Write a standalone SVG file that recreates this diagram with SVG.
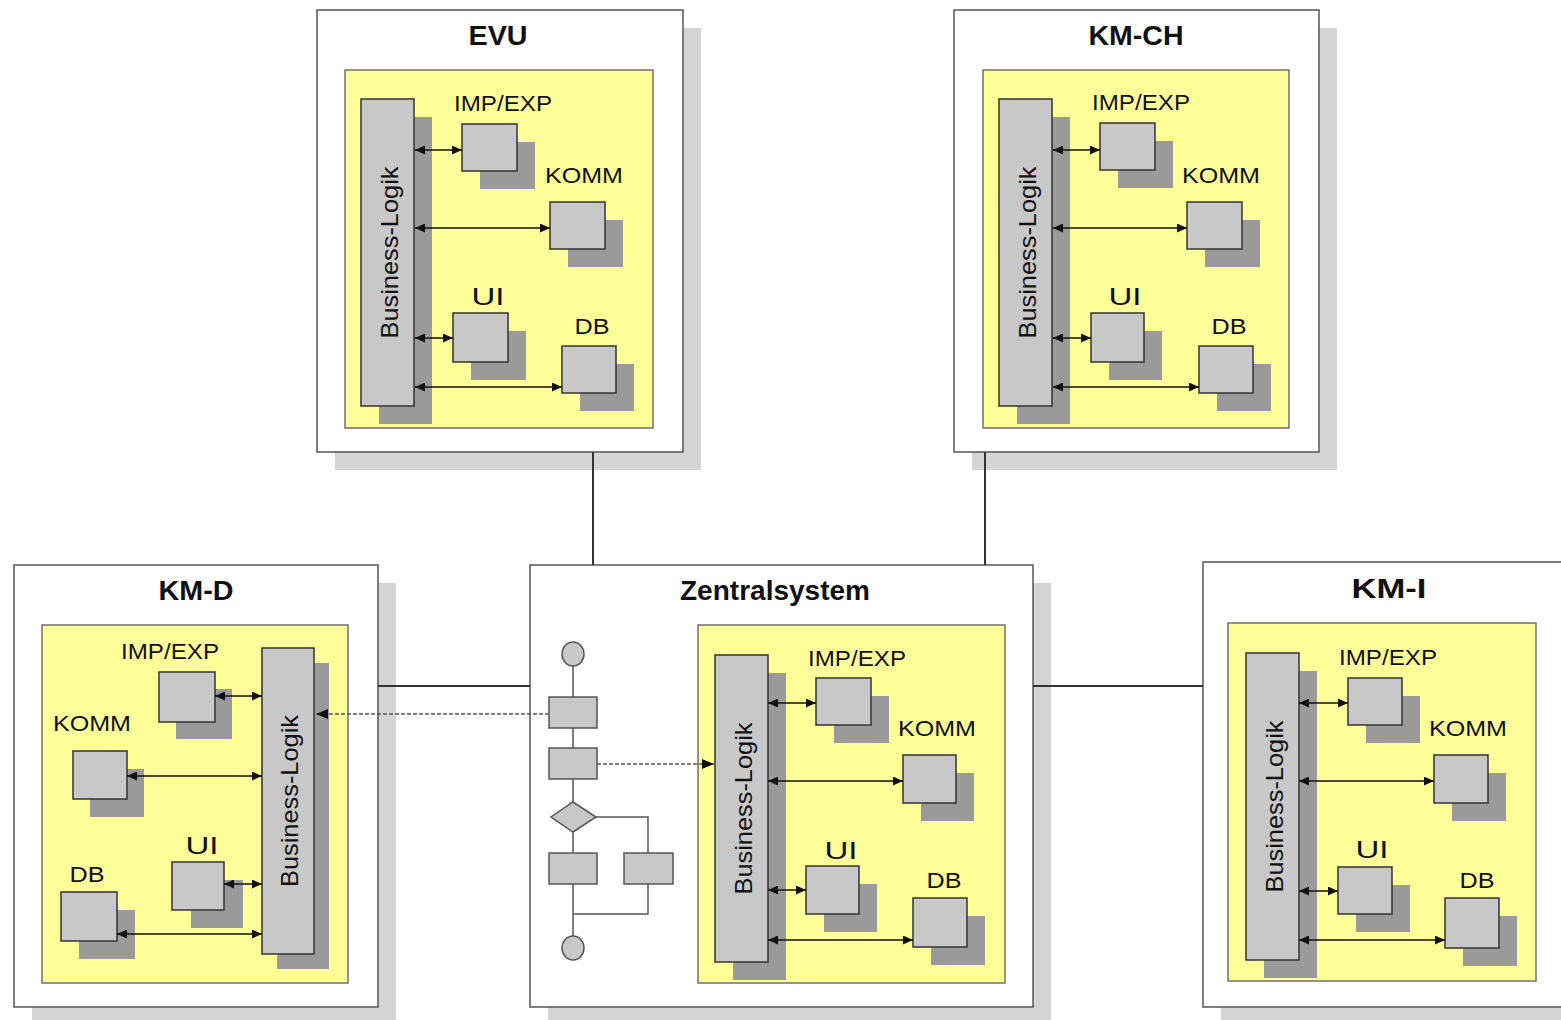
<svg xmlns="http://www.w3.org/2000/svg" width="1561" height="1020" viewBox="0 0 1561 1020">
  <defs>
    <style>
      .outer { fill: #ffffff; stroke: #555555; stroke-width: 1.5; }
      .oshadow { fill: #d4d4d4; }
      .panel { fill: #ffff99; stroke: #707070; stroke-width: 1.5; }
      .sh { fill: #9a9a9a; }
      .blk { fill: #c8c8c8; stroke: #333333; stroke-width: 1.5; }
      .flow { fill: #c8c8c8; stroke: #555555; stroke-width: 1.5; }
      .fline { fill: none; stroke: #555555; stroke-width: 1.5; }
      .lbl { font-family: "Liberation Sans", Arial, sans-serif; font-size: 22px; fill: #111111; text-anchor: middle; }
      .ui { font-size: 24px; }
      .bl { font-size: 24px; }
      .title { font-family: "Liberation Sans", Arial, sans-serif; font-size: 28px; font-weight: bold; fill: #111111; text-anchor: middle; }
      .arr { fill: none; stroke: #111111; stroke-width: 1.3; marker-start: url(#ah); marker-end: url(#ah); }
      .link { fill: none; stroke: #333333; stroke-width: 2; }
      .dash { fill: none; stroke: #555555; stroke-width: 1.3; stroke-dasharray: 4 2; marker-end: url(#ahd); }
    </style>
    <marker id="ah" viewBox="0 0 10 9" refX="10" refY="4.5" markerWidth="10" markerHeight="9" markerUnits="userSpaceOnUse" orient="auto-start-reverse">
      <path d="M0,0 L10,4.5 L0,9 z" fill="#111111"/>
    </marker>
    <marker id="ahd" viewBox="0 0 12 10" refX="12" refY="5" markerWidth="12" markerHeight="10" markerUnits="userSpaceOnUse" orient="auto">
      <path d="M0,0 L12,5 L0,10 z" fill="#111111"/>
    </marker>
  </defs>

  <rect width="1561" height="1020" fill="#ffffff"/>

  <!-- EVU -->
  <g id="evu">
    <rect class="oshadow" x="335" y="28" width="366" height="442"/>
    <rect class="outer" x="317" y="10" width="366" height="442"/>
    <text class="title" x="498" y="45" textLength="59" lengthAdjust="spacingAndGlyphs">EVU</text>
    <g transform="translate(345,70)">
      <rect class="panel" x="0" y="0" width="308" height="358"/>
      <rect class="sh" x="34" y="47" width="53" height="307"/>
      <rect class="blk" x="16" y="29" width="53" height="307"/>
      <text class="lbl bl" transform="translate(42.5,182.5) rotate(-90)" dy="10" textLength="172" lengthAdjust="spacingAndGlyphs">Business-Logik</text>
      <rect class="sh" x="135" y="72" width="55" height="47"/>
      <rect class="blk" x="117" y="54" width="55" height="47"/>
      <rect class="sh" x="223" y="150" width="55" height="47"/>
      <rect class="blk" x="205" y="132" width="55" height="47"/>
      <rect class="sh" x="126" y="261" width="55" height="49"/>
      <rect class="blk" x="108" y="243" width="55" height="49"/>
      <rect class="sh" x="235" y="294" width="54" height="47"/>
      <rect class="blk" x="217" y="276" width="54" height="47"/>
      <text class="lbl" x="158" y="41" textLength="98" lengthAdjust="spacingAndGlyphs">IMP/EXP</text>
      <text class="lbl" x="239" y="113" textLength="78" lengthAdjust="spacingAndGlyphs">KOMM</text>
      <text class="lbl ui" x="143" y="235" textLength="33" lengthAdjust="spacingAndGlyphs">UI</text>
      <text class="lbl" x="247" y="264" textLength="35" lengthAdjust="spacingAndGlyphs">DB</text>
    </g>
  </g>

  <!-- KM-CH -->
  <g id="km-ch">
    <rect class="oshadow" x="972" y="28" width="365" height="442"/>
    <rect class="outer" x="954" y="10" width="365" height="442"/>
    <text class="title" x="1136" y="45" textLength="95" lengthAdjust="spacingAndGlyphs">KM-CH</text>
    <g transform="translate(983,70)">
      <rect class="panel" x="0" y="0" width="306" height="358"/>
      <rect class="sh" x="34" y="47" width="53" height="307"/>
      <rect class="blk" x="16" y="29" width="53" height="307"/>
      <text class="lbl bl" transform="translate(42.5,182.5) rotate(-90)" dy="10" textLength="172" lengthAdjust="spacingAndGlyphs">Business-Logik</text>
      <rect class="sh" x="135" y="71" width="55" height="47"/>
      <rect class="blk" x="117" y="53" width="55" height="47"/>
      <rect class="sh" x="222" y="150" width="55" height="47"/>
      <rect class="blk" x="204" y="132" width="55" height="47"/>
      <rect class="sh" x="126" y="261" width="53" height="49"/>
      <rect class="blk" x="108" y="243" width="53" height="49"/>
      <rect class="sh" x="234" y="294" width="54" height="47"/>
      <rect class="blk" x="216" y="276" width="54" height="47"/>
      <text class="lbl" x="158" y="40" textLength="98" lengthAdjust="spacingAndGlyphs">IMP/EXP</text>
      <text class="lbl" x="238" y="113" textLength="78" lengthAdjust="spacingAndGlyphs">KOMM</text>
      <text class="lbl ui" x="142" y="235" textLength="33" lengthAdjust="spacingAndGlyphs">UI</text>
      <text class="lbl" x="246" y="264" textLength="35" lengthAdjust="spacingAndGlyphs">DB</text>
    </g>
  </g>

  <!-- KM-D (mirrored layout, logic bar on the right) -->
  <g id="km-d">
    <rect class="oshadow" x="32" y="583" width="364" height="442"/>
    <rect class="outer" x="14" y="565" width="364" height="442"/>
    <text class="title" x="196" y="600" textLength="75" lengthAdjust="spacingAndGlyphs">KM-D</text>
    <rect class="panel" x="42" y="625" width="306" height="358"/>
    <rect class="sh" x="277" y="663" width="52" height="306"/>
    <rect class="blk" x="262" y="648" width="52" height="306"/>
    <text class="lbl bl" transform="translate(288,801) rotate(-90)" dy="10" textLength="172" lengthAdjust="spacingAndGlyphs">Business-Logik</text>
    <rect class="sh" x="176" y="689" width="56" height="50"/>
    <rect class="blk" x="159" y="672" width="56" height="50"/>
    <rect class="sh" x="90" y="769" width="54" height="48"/>
    <rect class="blk" x="73" y="751" width="54" height="48"/>
    <rect class="sh" x="191" y="880" width="52" height="48"/>
    <rect class="blk" x="172" y="862" width="52" height="48"/>
    <rect class="sh" x="79" y="910" width="56" height="49"/>
    <rect class="blk" x="61" y="892" width="56" height="49"/>
    <text class="lbl" x="170" y="659" textLength="98" lengthAdjust="spacingAndGlyphs">IMP/EXP</text>
    <text class="lbl" x="92" y="731" textLength="78" lengthAdjust="spacingAndGlyphs">KOMM</text>
    <text class="lbl ui" x="202" y="854" textLength="33" lengthAdjust="spacingAndGlyphs">UI</text>
    <text class="lbl" x="87" y="882" textLength="35" lengthAdjust="spacingAndGlyphs">DB</text>
  </g>

  <!-- Zentralsystem -->
  <g id="zentralsystem">
    <rect class="oshadow" x="548" y="583" width="503" height="442"/>
    <rect class="outer" x="530" y="565" width="503" height="442"/>
    <text class="title" x="775" y="600" textLength="190" lengthAdjust="spacingAndGlyphs">Zentralsystem</text>
    <!-- process flow -->
    <g id="zentral-flow">
      <path class="fline" d="M573,665 V937 M596,817 H648 V853 M648,884 V914 H573"/>
      <ellipse class="flow" cx="573" cy="654" rx="11" ry="12"/>
      <rect class="flow" x="549" y="697" width="48" height="31"/>
      <rect class="flow" x="549" y="748" width="48" height="31"/>
      <path class="flow" d="M573,802 L596,817 L573,832 L551,817 z"/>
      <rect class="flow" x="549" y="853" width="48" height="31"/>
      <rect class="flow" x="624" y="853" width="49" height="31"/>
      <ellipse class="flow" cx="573" cy="948" rx="11" ry="12"/>
    </g>
    <g transform="translate(698,625)">
      <rect class="panel" x="0" y="0" width="307" height="358"/>
      <rect class="sh" x="35" y="48" width="53" height="307"/>
      <rect class="blk" x="17" y="30" width="53" height="307"/>
      <text class="lbl bl" transform="translate(43.5,183.5) rotate(-90)" dy="10" textLength="172" lengthAdjust="spacingAndGlyphs">Business-Logik</text>
      <rect class="sh" x="136" y="71" width="55" height="47"/>
      <rect class="blk" x="118" y="53" width="55" height="47"/>
      <rect class="sh" x="223" y="148" width="53" height="48"/>
      <rect class="blk" x="205" y="130" width="53" height="48"/>
      <rect class="sh" x="126" y="259" width="53" height="48"/>
      <rect class="blk" x="108" y="241" width="53" height="48"/>
      <rect class="sh" x="233" y="291" width="54" height="49"/>
      <rect class="blk" x="215" y="273" width="54" height="49"/>
      <text class="lbl" x="159" y="41" textLength="98" lengthAdjust="spacingAndGlyphs">IMP/EXP</text>
      <text class="lbl" x="239" y="111" textLength="78" lengthAdjust="spacingAndGlyphs">KOMM</text>
      <text class="lbl ui" x="143" y="234" textLength="33" lengthAdjust="spacingAndGlyphs">UI</text>
      <text class="lbl" x="246" y="263" textLength="35" lengthAdjust="spacingAndGlyphs">DB</text>
    </g>
  </g>

  <!-- KM-I -->
  <g id="km-i">
    <rect class="oshadow" x="1221" y="580" width="365" height="445"/>
    <rect class="outer" x="1203" y="562" width="365" height="445"/>
    <text class="title" x="1389" y="598" font-size="29" textLength="75" lengthAdjust="spacingAndGlyphs">KM-I</text>
    <g transform="translate(1228,623)">
      <rect class="panel" x="0" y="0" width="308" height="358"/>
      <rect class="sh" x="36" y="48" width="53" height="307"/>
      <rect class="blk" x="18" y="30" width="53" height="307"/>
      <text class="lbl bl" transform="translate(44.5,183.5) rotate(-90)" dy="10" textLength="172" lengthAdjust="spacingAndGlyphs">Business-Logik</text>
      <rect class="sh" x="138" y="73" width="54" height="47"/>
      <rect class="blk" x="120" y="55" width="54" height="47"/>
      <rect class="sh" x="224" y="150" width="54" height="48"/>
      <rect class="blk" x="206" y="132" width="54" height="48"/>
      <rect class="sh" x="128" y="262" width="54" height="47"/>
      <rect class="blk" x="110" y="244" width="54" height="47"/>
      <rect class="sh" x="235" y="293" width="54" height="50"/>
      <rect class="blk" x="217" y="275" width="54" height="50"/>
      <text class="lbl" x="160" y="42" textLength="98" lengthAdjust="spacingAndGlyphs">IMP/EXP</text>
      <text class="lbl" x="240" y="113" textLength="78" lengthAdjust="spacingAndGlyphs">KOMM</text>
      <text class="lbl ui" x="144" y="235" textLength="33" lengthAdjust="spacingAndGlyphs">UI</text>
      <text class="lbl" x="249" y="265" textLength="35" lengthAdjust="spacingAndGlyphs">DB</text>
    </g>
  </g>

  <!-- connectors -->
  <g id="connectors">
    <!-- links between systems -->
    <line class="link" x1="593" y1="452" x2="593" y2="565"/>
    <line class="link" x1="985" y1="452" x2="985" y2="565"/>
    <line class="link" x1="378" y1="686" x2="530" y2="686"/>
    <line class="link" x1="1033" y1="686" x2="1203" y2="686"/>
    <!-- process flow calls into business logic -->
    <line class="dash" x1="549" y1="714" x2="316" y2="714"/>
    <line class="dash" x1="597" y1="764" x2="714" y2="764"/>
    <!-- EVU internals -->
    <line class="arr" x1="415" y1="150" x2="462" y2="150"/>
    <line class="arr" x1="415" y1="228" x2="550" y2="228"/>
    <line class="arr" x1="415" y1="338" x2="453" y2="338"/>
    <line class="arr" x1="415" y1="387" x2="562" y2="387"/>
    <!-- KM-CH internals -->
    <line class="arr" x1="1053" y1="150" x2="1100" y2="150"/>
    <line class="arr" x1="1053" y1="228" x2="1187" y2="228"/>
    <line class="arr" x1="1053" y1="338" x2="1091" y2="338"/>
    <line class="arr" x1="1053" y1="387" x2="1199" y2="387"/>
    <!-- KM-D internals -->
    <line class="arr" x1="215" y1="696" x2="262" y2="696"/>
    <line class="arr" x1="127" y1="776" x2="262" y2="776"/>
    <line class="arr" x1="224" y1="884" x2="262" y2="884"/>
    <line class="arr" x1="117" y1="934" x2="262" y2="934"/>
    <!-- Zentralsystem internals -->
    <line class="arr" x1="768" y1="703" x2="816" y2="703"/>
    <line class="arr" x1="768" y1="781" x2="903" y2="781"/>
    <line class="arr" x1="768" y1="890" x2="806" y2="890"/>
    <line class="arr" x1="768" y1="940" x2="913" y2="940"/>
    <!-- KM-I internals -->
    <line class="arr" x1="1299" y1="703" x2="1348" y2="703"/>
    <line class="arr" x1="1299" y1="781" x2="1434" y2="781"/>
    <line class="arr" x1="1299" y1="891" x2="1338" y2="891"/>
    <line class="arr" x1="1299" y1="940" x2="1445" y2="940"/>
  </g>
</svg>
